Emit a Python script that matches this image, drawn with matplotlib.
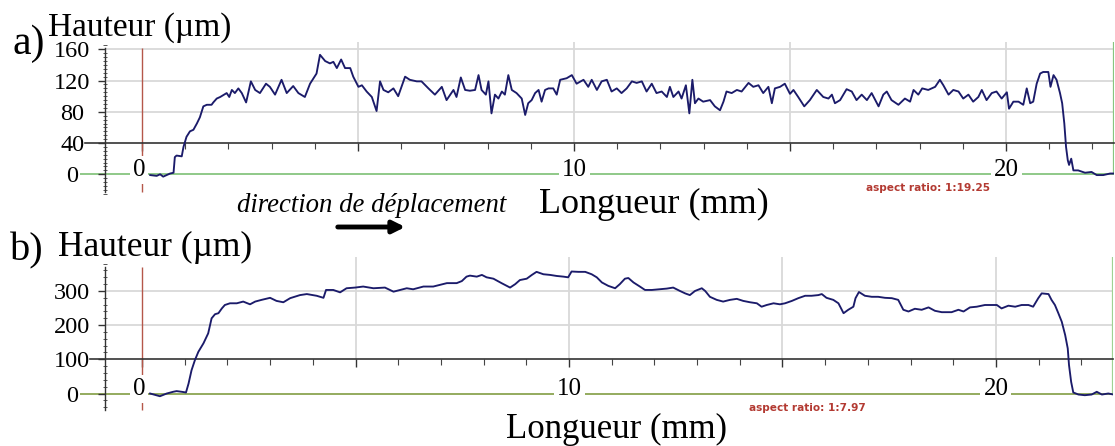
import matplotlib
matplotlib.use("Agg")
import matplotlib.pyplot as plt
from matplotlib.ticker import FixedLocator, MultipleLocator

# ---------------- data ----------------
# Panel a : profile, x in mm, height in micrometres
xa = [0.19, 0.34, 0.42, 0.49, 0.65, 0.73, 0.76, 0.80, 0.92, 0.96, 1.03, 1.11, 1.19, 1.27,
      1.34, 1.42, 1.50, 1.61, 1.65, 1.73, 1.81, 1.96, 2.02, 2.08, 2.15, 2.23, 2.31, 2.41,
      2.52, 2.62, 2.73, 2.87, 2.96, 3.08, 3.23, 3.35, 3.50, 3.62, 3.77, 3.89, 4.04, 4.12,
      4.24, 4.35, 4.43, 4.51, 4.61, 4.70, 4.82, 4.89, 5.01, 5.09, 5.20, 5.32, 5.43, 5.51,
      5.59, 5.70, 5.82, 5.93, 6.09, 6.20, 6.36, 6.47, 6.63, 6.78, 6.94, 7.05, 7.21, 7.28,
      7.38, 7.48, 7.59, 7.71, 7.79, 7.86, 7.96, 8.02, 8.09, 8.17, 8.25, 8.33, 8.40, 8.48,
      8.56, 8.67, 8.79, 8.87, 8.94, 9.02, 9.10, 9.18, 9.25, 9.33, 9.41, 9.52, 9.60, 9.68,
      9.83, 9.95, 10.06, 10.22, 10.33, 10.41, 10.53, 10.64, 10.76, 10.87, 10.99, 11.10,
      11.22, 11.34, 11.45, 11.57, 11.68, 11.80, 11.91, 12.03, 12.15, 12.22, 12.30, 12.42,
      12.49, 12.59, 12.67, 12.74, 12.80, 12.88, 12.99, 13.15, 13.26, 13.38, 13.46, 13.53,
      13.65, 13.77, 13.88, 14.04, 14.15, 14.27, 14.38, 14.50, 14.58, 14.65, 14.77, 14.88,
      15.00, 15.08, 15.19, 15.33, 15.46, 15.62, 15.77, 15.89, 15.97, 16.04, 16.16, 16.31,
      16.43, 16.54, 16.66, 16.78, 16.89, 17.05, 17.16, 17.24, 17.35, 17.51, 17.66, 17.78,
      17.86, 17.97, 18.06, 18.20, 18.36, 18.47, 18.55, 18.67, 18.78, 18.90, 19.01, 19.13,
      19.24, 19.36, 19.44, 19.55, 19.67, 19.78, 19.90, 20.02, 20.07, 20.17, 20.29, 20.40,
      20.48, 20.56, 20.63, 20.71, 20.79, 20.86, 20.98, 21.03, 21.10, 21.17, 21.25, 21.30,
      21.35, 21.39, 21.43, 21.46, 21.51, 21.56, 21.67, 21.83, 21.98, 22.10, 22.25, 22.41,
      22.52]
ha_um = [-1, -2, 0, -3, 1, 2, 22, 24, 23, 35, 48, 55, 57, 65,
         73, 87, 89, 89, 92, 97, 99, 104, 99, 108, 104, 110, 104, 92,
         119, 108, 104, 116, 112, 102, 121, 104, 113, 104, 99, 116, 129, 153,
         145, 142, 144, 136, 147, 136, 136, 125, 112, 114, 106, 99, 81, 119,
         108, 105, 110, 100, 125, 121, 119, 119, 110, 102, 112, 95, 108, 99,
         124, 108, 107, 108, 127, 108, 102, 119, 78, 102, 97, 106, 102, 127,
         108, 104, 97, 76, 91, 95, 104, 108, 93, 108, 110, 110, 102, 121,
         123, 127, 116, 121, 112, 121, 108, 119, 121, 106, 110, 104,
         110, 119, 117, 119, 106, 116, 104, 106, 99, 112, 99, 106,
         97, 114, 78, 121, 91, 97, 93, 95, 87, 82, 93, 106,
         104, 108, 106, 117, 112, 114, 104, 112, 91, 110, 112, 116,
         103, 108, 99, 87, 95, 108, 99, 97, 102, 91, 95, 109,
         106, 95, 102, 95, 104, 87, 102, 106, 95, 89, 97, 93,
         108, 102, 110, 108, 112, 121, 114, 102, 108, 106, 97, 102,
         93, 99, 108, 95, 104, 106, 97, 105, 84, 93, 93, 89,
         110, 91, 93, 116, 129, 131, 131, 112, 127, 121, 104, 91,
         65, 35, 18, 12, 20, 5, 5, 2, 3, -1, -1, 1,
         1]

# Panel b : profile, x in mm, height in micrometres
xb = [0.19, 0.34, 0.42, 0.58, 0.73, 0.81, 0.93, 1.03, 1.09, 1.16, 1.24, 1.32, 1.44, 1.55,
      1.63, 1.71, 1.79, 1.87, 1.94, 2.06, 2.22, 2.37, 2.53, 2.65, 2.80, 3.00, 3.15, 3.31,
      3.47, 3.70, 3.86, 4.09, 4.25, 4.31, 4.48, 4.64, 4.79, 4.99, 5.18, 5.42, 5.69, 5.89,
      6.04, 6.20, 6.35, 6.59, 6.82, 6.98, 7.14, 7.37, 7.49, 7.60, 7.68, 7.84, 7.96, 8.07,
      8.23, 8.42, 8.62, 8.74, 8.85, 9.01, 9.13, 9.24, 9.40, 9.56, 9.71, 9.87, 9.98, 10.06,
      10.22, 10.38, 10.53, 10.65, 10.77, 10.92, 11.08, 11.19, 11.31, 11.39, 11.51, 11.66,
      11.78, 11.94, 12.13, 12.29, 12.44, 12.60, 12.72, 12.83, 12.95, 13.11, 13.19, 13.30,
      13.46, 13.61, 13.77, 13.93, 14.08, 14.24, 14.40, 14.51, 14.63, 14.79, 14.94, 15.06,
      15.22, 15.37, 15.53, 15.68, 15.84, 15.92, 16.03, 16.19, 16.31, 16.43, 16.54, 16.66,
      16.71, 16.79, 16.93, 17.09, 17.24, 17.40, 17.56, 17.71, 17.83, 17.95, 18.10, 18.26,
      18.42, 18.57, 18.73, 18.96, 19.12, 19.24, 19.39, 19.55, 19.74, 19.90, 20.02, 20.13,
      20.29, 20.45, 20.60, 20.76, 20.87, 20.99, 21.07, 21.23, 21.30, 21.38, 21.46, 21.54,
      21.62, 21.68, 21.71, 21.76, 21.81, 21.93, 22.08, 22.24, 22.36, 22.48, 22.63, 22.75]
hb_um = [0, -5, -8, 0, 5, 7, 5, 3, 29, 68, 98, 122, 147, 176,
         220, 232, 235, 249, 259, 264, 264, 269, 261, 269, 274, 280, 271, 267,
         279, 288, 291, 286, 280, 303, 303, 296, 308, 310, 313, 308, 310, 298,
         303, 308, 305, 313, 313, 318, 323, 323, 329, 342, 345, 342, 347, 340,
         336, 323, 310, 320, 332, 336, 347, 356, 349, 347, 344, 342, 340, 357,
         356, 356, 349, 340, 325, 315, 308, 320, 336, 338, 325, 313,
         303, 303, 305, 307, 310, 300, 293, 288, 300, 308, 300, 283,
         274, 269, 274, 277, 271, 267, 264, 254, 259, 264, 261, 264,
         271, 279, 286, 286, 288, 291, 280, 274, 264, 235, 245, 254,
         279, 297, 286, 283, 283, 280, 279, 274, 245, 240, 248, 245,
         252, 242, 238, 238, 245, 240, 252, 254, 259, 259, 259, 249,
         257, 254, 259, 259, 254, 279, 293, 291, 274, 259, 235, 210,
         171, 132, 83, 34, 3, -3, -5, -3, 5, -3, 0, -3]

# axis annotations
yticks_a = [0, 40, 80, 120, 160]
yticks_b = [0, 100, 200, 300]
grid_y_a = [80, 120, 160]
grid_y_b = [200, 300]
grid_x = [5, 10, 15, 20]
xlabel_vals = [0, 10, 20]
xlabel_text = ["0", "10", "20"]

# ---------------- figure ----------------
FW, FH = 1115, 446
fig = plt.figure(figsize=(FW / 100, FH / 100), dpi=100)
SERIF = "Liberation Serif"
LINE_COL = "#1b1b6a"
GRID_COL = "#d9d9d9"
RED_COL = "#b5574a"


def make_panel(px_l, px_r, px_t, px_b, x0_px, px_mm, y0_px, px_um):
    ax = fig.add_axes([px_l / FW, 1 - px_b / FH, (px_r - px_l) / FW, (px_b - px_t) / FH])
    ax.set_xlim((px_l - x0_px) / px_mm, (px_r - x0_px) / px_mm)
    ax.set_ylim((y0_px - px_b) / px_um, (y0_px - px_t) / px_um)
    ax.patch.set_alpha(0)
    xd = lambda p: (p - x0_px) / px_mm
    yd = lambda p: (y0_px - p) / px_um
    return ax, xd, yd


def draw_panel(ax, xd, yd, x, h, yticks, ymin_step, axis_level, grid_y,
               yaxis_px, yspan_px, axis_start_px, green_col, right_green_col):
    xl = ax.get_xlim()
    yl = ax.get_ylim()
    # gridlines
    ax.hlines(grid_y, xd(yaxis_px), xl[1], color=GRID_COL, lw=1.3, zorder=1)
    ax.vlines(grid_x, axis_level, yl[1], color=GRID_COL, lw=1.3, zorder=1)
    # zero line (green)
    ax.axhline(0, color=green_col, lw=1.3, zorder=1.5)
    # right limit line
    ax.vlines([xl[1] - 0.01], 0, yl[1], color=right_green_col, lw=1.6, zorder=1.5)
    # red line at x = 0
    ax.vlines([0], yd(yspan_px[1]), yd(yspan_px[0]), color=RED_COL, lw=1.0, zorder=1.6)
    # profile
    ax.plot(x, h, color=LINE_COL, lw=1.35, zorder=3, solid_joinstyle="round")

    # spines
    for s in ("top", "right"):
        ax.spines[s].set_visible(False)
    ax.spines["left"].set_position(("data", xd(yaxis_px)))
    ax.spines["left"].set_bounds(yd(yspan_px[1]), yd(yspan_px[0]))
    ax.spines["left"].set_color("#333333")
    ax.spines["left"].set_linewidth(1.0)
    ax.spines["bottom"].set_position(("data", axis_level))
    ax.spines["bottom"].set_bounds(xd(axis_start_px), xl[1])
    ax.spines["bottom"].set_color("#333333")
    ax.spines["bottom"].set_linewidth(1.2)
    ax.spines["bottom"].set_zorder(2)

    ax.yaxis.set_major_locator(FixedLocator(yticks))
    ax.yaxis.set_minor_locator(MultipleLocator(ymin_step))
    ax.tick_params(axis="y", which="major", direction="out", length=5, width=1.0,
                   color="#333333", pad=18.5, labelsize=17.5)
    ax.tick_params(axis="y", which="minor", direction="inout", length=3.5, width=0.7,
                   color="#555555")
    for lab in ax.get_yticklabels():
        lab.set_fontfamily(SERIF)
        lab.set_horizontalalignment("center")

    ax.xaxis.set_major_locator(FixedLocator([0, 5, 10, 15, 20]))
    ax.xaxis.set_minor_locator(FixedLocator([v for v in range(1, 23) if v % 5]))
    ax.tick_params(axis="x", which="major", direction="out", length=6, width=1.0,
                   color="#333333", labelbottom=False)
    ax.tick_params(axis="x", which="minor", direction="out", length=4, width=0.8,
                   color="#444444")

    # x labels sitting on the zero line
    for v, t in zip(xlabel_vals, xlabel_text):
        ax.annotate(t, (v, 0), xytext=(-2 if v == 0 else 0, 3), textcoords="offset points",
                    ha="center", va="center", fontsize=18, family=SERIF, zorder=4,
                    bbox=dict(boxstyle="square,pad=0.12", fc="white", ec="none"))


# Panel a
ax_a, xda, yda = make_panel(80, 1114, 42, 194, 142, 43.2, 174.3, 0.781)
draw_panel(ax_a, xda, yda, xa, ha_um, yticks_a, 5, 40, grid_y_a,
           105, (48, 192), 85, "#87c57f", "#87c57f")

# Panel b
ax_b, xdb, ydb = make_panel(80, 1113, 257, 412, 142, 42.7, 393.5, 0.3417)
draw_panel(ax_b, xdb, ydb, xb, hb_um, yticks_b, 20, 100, grid_y_b,
           105, (267, 410), 90, "#8ba552", "#9fd293")


def ftext(px, py, s, **kw):
    fig.text(px / FW, 1 - py / FH, s, **kw)


# titles & labels
ftext(12, 54, "a)", fontsize=30, family=SERIF, va="baseline")
ftext(48, 36, "Hauteur (µm)", fontsize=24, family=SERIF, va="baseline")
ftext(10, 260, "b)", fontsize=29, family=SERIF, va="baseline")
ftext(58, 256, "Hauteur (µm)", fontsize=25.5, family=SERIF, va="baseline")
ftext(654, 213, "Longueur (mm)", fontsize=26, family=SERIF, va="baseline", ha="center")
ftext(616, 438, "Longueur (mm)", fontsize=25, family=SERIF, va="baseline", ha="center")
ftext(237, 212, "direction de déplacement", fontsize=19.3, family=SERIF,
      style="italic", va="baseline")
ftext(866, 188, "aspect ratio: 1:19.25", fontsize=7.6, family="DejaVu Sans",
      weight="bold", color="#b33a32", va="center")
ftext(749, 408, "aspect ratio: 1:7.97", fontsize=7.6, family="DejaVu Sans",
      weight="bold", color="#b33a32", va="center")

# direction arrow
fig.add_artist(matplotlib.patches.FancyArrowPatch(
    (335 / FW, 1 - 227 / FH), (408 / FW, 1 - 227 / FH), transform=fig.transFigure,
    arrowstyle="-|>", mutation_scale=18, lw=3.5, color="black"))

fig.savefig("out.png", dpi=100, facecolor="white")
